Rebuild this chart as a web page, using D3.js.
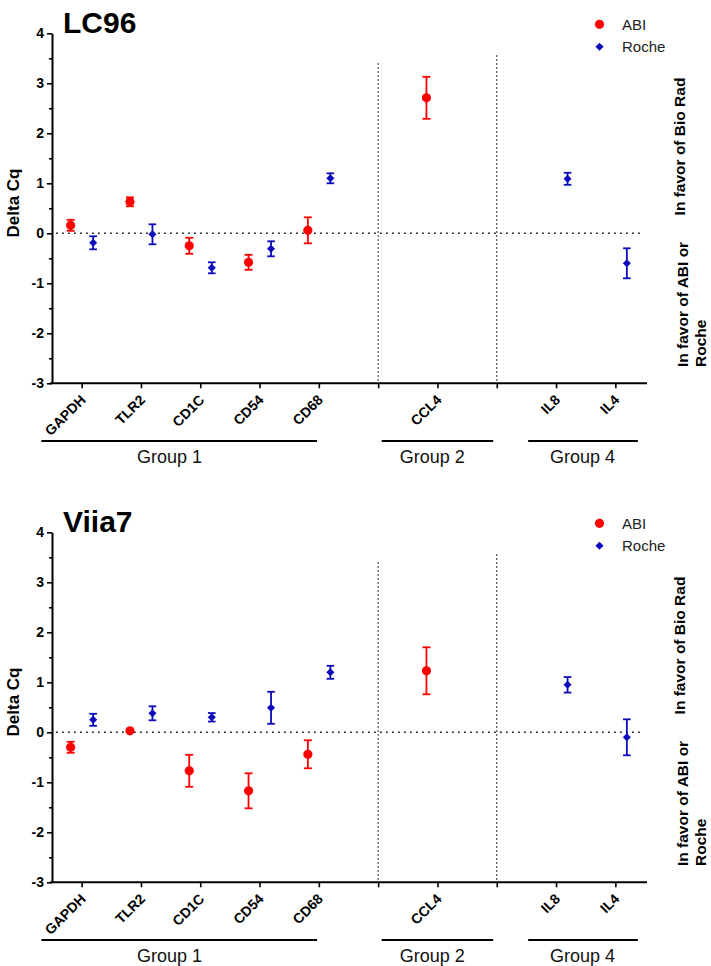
<!DOCTYPE html>
<html>
<head>
<meta charset="utf-8">
<script src="https://cdn.jsdelivr.net/npm/d3@7"></script>
<style>
  body { margin: 0; background: #fff; }
  svg { font-family: "Liberation Sans", Arial, sans-serif; }
</style>
</head>
<body>
<svg id="chart" width="711" height="966"></svg>
<script>
// slots on the x axis (blank slots are the gaps between groups)
var categories = ["GAPDH", "TLR2", "CD1C", "CD54", "CD68", "", "CCL4", "", "IL8", "IL4"];
var abiGenes = ["GAPDH", "TLR2", "CD1C", "CD54", "CD68", "CCL4"];
var rocheGenes = ["GAPDH", "TLR2", "CD1C", "CD54", "CD68", "IL8", "IL4"];
var groupNames = ["Group 1", "Group 2", "Group 4"];
var yTicks = [-3, -2, -1, 0, 1, 2, 3, 4];
var yMinor = [-2.5, -1.5, -0.5, 0.5, 1.5, 2.5, 3.5];

// LC96
var lc96AbiMean = [0.16, 0.63, -0.25, -0.58, 0.06, 2.71];
var lc96AbiErr = [0.11, 0.09, 0.16, 0.15, 0.26, 0.42];
var lc96RocheMean = [-0.19, -0.02, -0.69, -0.31, 1.10, 1.09, -0.60];
var lc96RocheErr = [0.13, 0.20, 0.11, 0.15, 0.10, 0.12, 0.30];

// Viia7
var viiaAbiMean = [-0.30, 0.03, -0.77, -1.17, -0.44, 1.23];
var viiaAbiErr = [0.11, 0.0, 0.32, 0.35, 0.28, 0.47];
var viiaRocheMean = [0.25, 0.38, 0.30, 0.49, 1.20, 0.95, -0.10];
var viiaRocheErr = [0.12, 0.14, 0.085, 0.32, 0.13, 0.155, 0.36];

var RED = "#ff0000", BLUE = "#0c0cbc";
var FONT = "'Liberation Sans', Arial, sans-serif";

var svg = d3.select("#chart");

var x = d3.scaleLinear().domain([-0.5, 9.5]).range([52, 645]);

var Render = function (g, title, abiMean, abiErr, rocheMean, rocheErr) {
  var y = d3.scaleLinear().domain([-3, 4]).range([383.3, 33.3]);

  // dotted separators between groups
  g.append("line")
    .attr("x1", x(5)).attr("x2", x(5))
    .attr("y1", 63).attr("y2", y(-3))
    .attr("stroke", "#333").attr("stroke-width", 1).attr("stroke-dasharray", "2,2");
  g.append("line")
    .attr("x1", x(7)).attr("x2", x(7))
    .attr("y1", 55).attr("y2", y(-3))
    .attr("stroke", "#333").attr("stroke-width", 1).attr("stroke-dasharray", "2,2");

  // zero line
  g.append("line")
    .attr("x1", 56).attr("x2", 643)
    .attr("y1", y(0)).attr("y2", y(0))
    .attr("stroke", "#222").attr("stroke-width", 1.6).attr("stroke-dasharray", "1.8,4.2");

  // y axis
  var yAxis = g.append("g").attr("transform", "translate(52,0)")
    .call(d3.axisLeft(y).tickValues(yTicks).tickSize(5).tickSizeOuter(0).tickPadding(3)
      .tickFormat(function(d) { return String(d); }));
  g.append("g").attr("transform", "translate(52,0)")
    .call(d3.axisLeft(y).tickValues(yMinor).tickSize(3).tickSizeOuter(0).tickFormat(""))
    .select(".domain").remove();
  yAxis.attr("font-size", 14).attr("font-weight", "bold").attr("font-family", FONT);
  yAxis.selectAll("text").attr("fill", "#000");

  // x axis
  var xAxis = g.append("g").attr("transform", "translate(0," + y(-3) + ")")
    .call(d3.axisBottom(x).tickValues(d3.range(categories.length))
      .tickFormat(function(i) { return categories[i]; })
      .tickSize(5).tickSizeOuter(0));
  xAxis.attr("font-size", 14).attr("font-weight", "bold").attr("font-family", FONT);
  xAxis.select(".domain").attr("d", "M50,0H647");
  xAxis.selectAll("text")
    .attr("x", 0).attr("y", 0).attr("dy", "0.35em")
    .attr("transform", "translate(1,14) rotate(-45)")
    .style("text-anchor", "end")
    .attr("fill", "#000");

  g.selectAll(".domain").attr("stroke-width", 2).attr("stroke", "#000");
  g.selectAll(".tick line").attr("stroke-width", 1.6).attr("stroke", "#000");

  // y label
  g.append("text")
    .attr("transform", "translate(19,203) rotate(-90)")
    .attr("text-anchor", "middle")
    .style("font-size", "17px").style("font-weight", "bold")
    .text("Delta Cq");

  // title
  g.append("text").attr("x", 63).attr("y", 33)
    .style("font-size", "30px").style("font-weight", "bold")
    .text(title);

  var abi = abiGenes.map(function(c, i) { return { i: categories.indexOf(c), m: abiMean[i], e: abiErr[i] }; });
  var roche = rocheGenes.map(function(c, i) { return { i: categories.indexOf(c), m: rocheMean[i], e: rocheErr[i] }; });

  var drawBars = function (data, off, color, cap) {
    var eb = g.append("g").selectAll("g").data(data.filter(function(d) { return d.e > 0; }))
      .enter().append("g").attr("stroke", color).attr("stroke-width", 1.8);
    eb.append("line")
      .attr("x1", function(d) { return x(d.i) + off; })
      .attr("x2", function(d) { return x(d.i) + off; })
      .attr("y1", function(d) { return y(d.m + d.e); })
      .attr("y2", function(d) { return y(d.m - d.e); });
    eb.append("line")
      .attr("x1", function(d) { return x(d.i) + off - cap; })
      .attr("x2", function(d) { return x(d.i) + off + cap; })
      .attr("y1", function(d) { return y(d.m + d.e); })
      .attr("y2", function(d) { return y(d.m + d.e); });
    eb.append("line")
      .attr("x1", function(d) { return x(d.i) + off - cap; })
      .attr("x2", function(d) { return x(d.i) + off + cap; })
      .attr("y1", function(d) { return y(d.m - d.e); })
      .attr("y2", function(d) { return y(d.m - d.e); });
  };

  drawBars(abi, -11, RED, 4);
  drawBars(roche, 11.5, BLUE, 3.8);

  g.append("g").selectAll("circle").data(abi)
    .enter().append("circle")
      .attr("cx", function(d) { return x(d.i) - 11; })
      .attr("cy", function(d) { return y(d.m); })
      .attr("r", 4.6)
      .attr("fill", RED);

  var diamond = d3.symbol().type(d3.symbolDiamond2).size(42);
  g.append("g").selectAll("path").data(roche)
    .enter().append("path")
      .attr("d", diamond)
      .attr("transform", function(d) { return "translate(" + (x(d.i) + 11.5) + "," + y(d.m) + ")"; })
      .attr("fill", BLUE);

  // legend
  g.append("circle").attr("cx", 599.5).attr("cy", 24.3).attr("r", 4.6).attr("fill", RED);
  g.append("path").attr("d", diamond).attr("transform", "translate(599.5,46.7)").attr("fill", BLUE);
  g.append("text").attr("x", 622).attr("y", 29.5).style("font-size", "15px").attr("fill", "#222").text("ABI");
  g.append("text").attr("x", 622).attr("y", 52).style("font-size", "15px").attr("fill", "#222").text("Roche");

  // right side notes
  g.append("text")
    .attr("transform", "translate(685,146.5) rotate(-90)")
    .attr("text-anchor", "middle")
    .style("font-size", "15.5px").style("font-weight", "bold")
    .text("In favor of Bio Rad");
  g.append("text")
    .attr("transform", "translate(688,367) rotate(-90)")
    .style("font-size", "15.5px").style("font-weight", "bold")
    .text("In favor of ABI or");
  g.append("text")
    .attr("transform", "translate(706,367) rotate(-90)")
    .style("font-size", "15.5px").style("font-weight", "bold")
    .text("Roche");

  // group brackets
  var spans = [[-0.68, 3.97], [5.06, 6.94], [7.53, 9.38]];
  var textX = [169.5, 432.3, 582.5];
  groupNames.forEach(function(name, k) {
    g.append("line")
      .attr("x1", x(spans[k][0])).attr("x2", x(spans[k][1]))
      .attr("y1", 441).attr("y2", 441)
      .attr("stroke", "#000").attr("stroke-width", 2);
    g.append("text")
      .attr("x", textX[k]).attr("y", 463)
      .attr("text-anchor", "middle")
      .style("font-size", "18px").attr("fill", "#111")
      .text(name);
  });
};

Render(svg.append("g"), "LC96", lc96AbiMean, lc96AbiErr, lc96RocheMean, lc96RocheErr);
Render(svg.append("g").attr("transform", "translate(0,499)"), "Viia7", viiaAbiMean, viiaAbiErr, viiaRocheMean, viiaRocheErr);
</script>
</body>
</html>
